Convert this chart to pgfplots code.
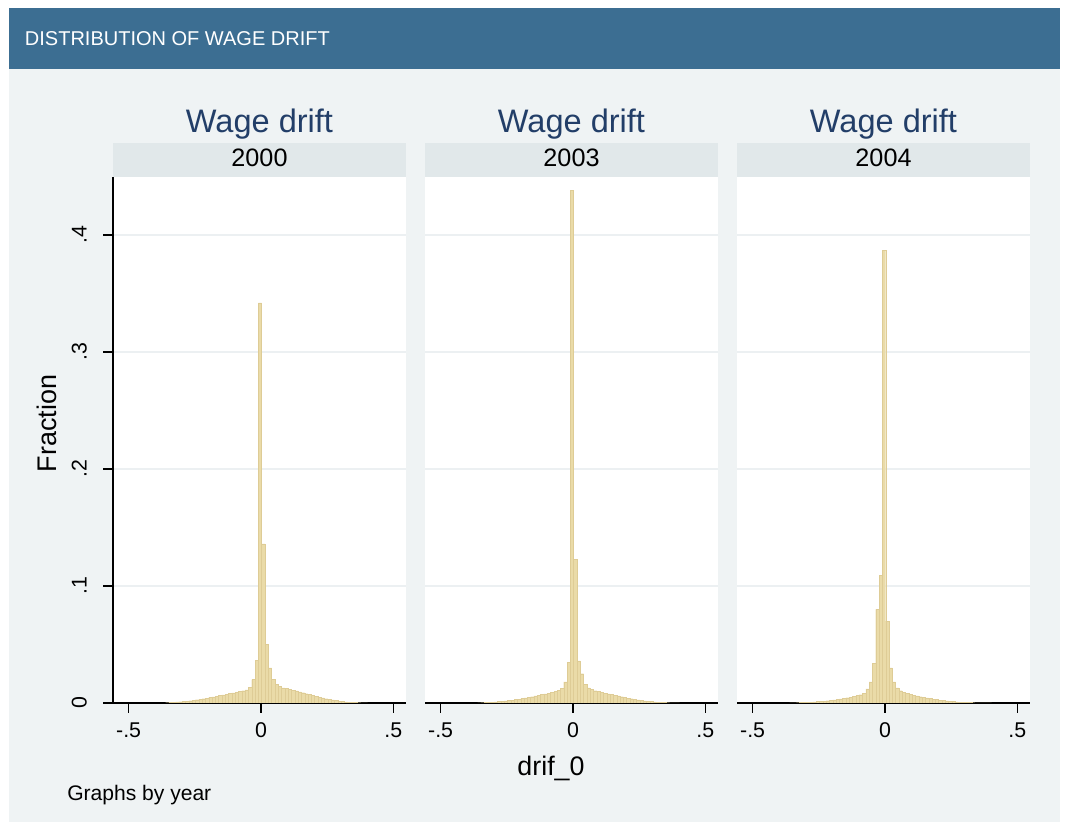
\documentclass[border=0pt]{standalone}
\usepackage{fontspec}
\setmainfont{Liberation Sans}
\usepackage{pgfplots}
\usepackage{pgfplotstable}
\pgfplotsset{compat=1.18}
\definecolor{hdr}{RGB}{60,110,146}
\definecolor{bgc}{RGB}{239,243,244}
\definecolor{strip}{RGB}{225,232,234}
\definecolor{ttl}{RGB}{34,62,104}
\definecolor{barf}{RGB}{234,219,168}
\definecolor{bare}{RGB}{222,204,150}
\definecolor{gridc}{RGB}{236,240,242}

\pgfplotstableread{
x a b c
-0.35375 0.0003 0.0002 0.0001
-0.34125 0.0005 0.0003 0.0002
-0.32875 0.0007 0.0004 0.0003
-0.31625 0.0009 0.0006 0.0004
-0.30375 0.0011 0.0008 0.0005
-0.29125 0.0014 0.0010 0.0006
-0.27875 0.0017 0.0012 0.0008
-0.26625 0.0020 0.0015 0.0010
-0.25375 0.0024 0.0018 0.0012
-0.24125 0.0028 0.0021 0.0014
-0.22875 0.0032 0.0025 0.0017
-0.21625 0.0037 0.0029 0.0020
-0.20375 0.0042 0.0033 0.0023
-0.19125 0.0047 0.0038 0.0027
-0.17875 0.0053 0.0043 0.0031
-0.16625 0.0058 0.0048 0.0035
-0.15375 0.0064 0.0054 0.0040
-0.14125 0.0070 0.0060 0.0045
-0.12875 0.0076 0.0066 0.0050
-0.11625 0.0082 0.0072 0.0056
-0.10375 0.0087 0.0078 0.0063
-0.09125 0.0092 0.0085 0.0071
-0.07875 0.0098 0.0090 0.0085
-0.06625 0.0105 0.0098 0.0120
-0.05375 0.0113 0.0108 0.0180
-0.04125 0.0135 0.0125 0.0340
-0.02875 0.0200 0.0180 0.0800
-0.01625 0.0365 0.0350 0.1090
-0.00375 0.3420 0.4380 0.3870
0.00875 0.1360 0.1230 0.0700
0.02125 0.0500 0.0360 0.0300
0.03375 0.0300 0.0250 0.0180
0.04625 0.0200 0.0160 0.0130
0.05875 0.0160 0.0130 0.0105
0.07125 0.0140 0.0115 0.0092
0.08375 0.0130 0.0105 0.0082
0.09625 0.0125 0.0098 0.0074
0.10875 0.0118 0.0092 0.0067
0.12125 0.0110 0.0085 0.0060
0.13375 0.0103 0.0078 0.0054
0.14625 0.0095 0.0072 0.0048
0.15875 0.0088 0.0066 0.0043
0.17125 0.0080 0.0060 0.0038
0.18375 0.0073 0.0054 0.0033
0.19625 0.0065 0.0048 0.0029
0.20875 0.0058 0.0042 0.0025
0.22125 0.0050 0.0037 0.0021
0.23375 0.0043 0.0032 0.0018
0.24625 0.0037 0.0027 0.0015
0.25875 0.0031 0.0023 0.0012
0.27125 0.0026 0.0019 0.0010
0.28375 0.0021 0.0016 0.0008
0.29625 0.0017 0.0013 0.0006
0.30875 0.0013 0.0010 0.0005
0.32125 0.0010 0.0008 0.0004
0.33375 0.0008 0.0006 0.0003
0.34625 0.0006 0.0004 0.0002
0.35875 0.0004 0.0003 0.0001
0.37125 0.0003 0.0002 0.0001
0.38375 0.0002 0.0001 0.0000
0.39625 0.0001 0.0001 0.0000
}\hist

\pgfplotsset{
  layers/mylayers/.define layer set={axis background,axis grid,main,axis ticks,axis lines,axis tick labels,axis descriptions,axis foreground}{},
  panel/.style={
    set layers=mylayers,
    scale only axis, width=219.75pt, height=394.5pt,
    xmin=-0.559, xmax=0.548, ymin=0, ymax=0.4496,
    axis x line*=bottom, axis y line*=left,
    xtick={-0.5,0,0.5}, xticklabels={-.5,0,.5},
    ytick={0,0.1,0.2,0.3,0.4}, yticklabels={0,.1,.2,.3,.4},
    ymajorgrids, grid style={gridc, line width=1pt},
    tick align=outside, major tick length=7.5pt,
    tick style={black, line width=0.9pt},
    axis line style={black, line width=0.9pt, -},
    axis background/.style={fill=white},
    xticklabel style={font=\fontsize{16}{19}\selectfont, anchor=north, inner sep=0pt},
    xticklabel shift=7pt,
    yticklabel style={font=\fontsize{16}{19}\selectfont, rotate=90, anchor=south, inner sep=0pt},
    yticklabel shift=12pt,
    ybar, bar width=0.0125,
  },
  noy/.style={y axis line style={draw=none}, ytick style={draw=none}, yticklabels={}},
  bars/.style={fill=barf, draw=bare, line width=0.2pt, bar shift=0pt},
}

\begin{document}
\begin{tikzpicture}[x=0.75pt, y=0.75pt]
\fill[white] (0,0) rectangle (1066,827);
\fill[bgc] (9,5) rectangle (1060,758);
\fill[hdr] (9,758) rectangle (1060,819);
\node[anchor=base west, inner sep=0pt, white, font=\fontsize{15}{17}\selectfont] at (24.7,781.3) {DISTRIBUTION OF WAGE DRIFT};

\foreach \xl/\yr in {113/2000, 425/2003, 737/2004} {
  \fill[strip] (\xl,650) rectangle ({\xl+293},684);
  \node[anchor=base, inner sep=0pt, font=\fontsize{18.9}{22}\selectfont] at ({\xl+146.5},660.3) {\yr};
  \node[anchor=base, inner sep=0pt, ttl, font=\fontsize{24.4}{28}\selectfont] at ({\xl+146.5},694) {Wage drift};
}

\begin{axis}[panel, at={(84.75pt,93pt)}, anchor=south west]
\addplot[bars] table[x=x, y=a] {\hist};
\end{axis}
\begin{axis}[panel, noy, at={(318.75pt,93pt)}, anchor=south west]
\addplot[bars] table[x=x, y=b] {\hist};
\end{axis}
\begin{axis}[panel, noy, at={(552.75pt,93pt)}, anchor=south west]
\addplot[bars] table[x=x, y=c] {\hist};
\end{axis}

\node[rotate=90, anchor=base, inner sep=0pt, font=\fontsize{20.2}{24}\selectfont] at (56.7,403.5) {Fraction};
\node[anchor=base, inner sep=0pt, font=\fontsize{20.1}{24}\selectfont] at (551,51) {drif\_0};
\node[anchor=base west, inner sep=0pt, font=\fontsize{15.8}{19}\selectfont] at (67,26) {Graphs by year};
\end{tikzpicture}
\end{document}
